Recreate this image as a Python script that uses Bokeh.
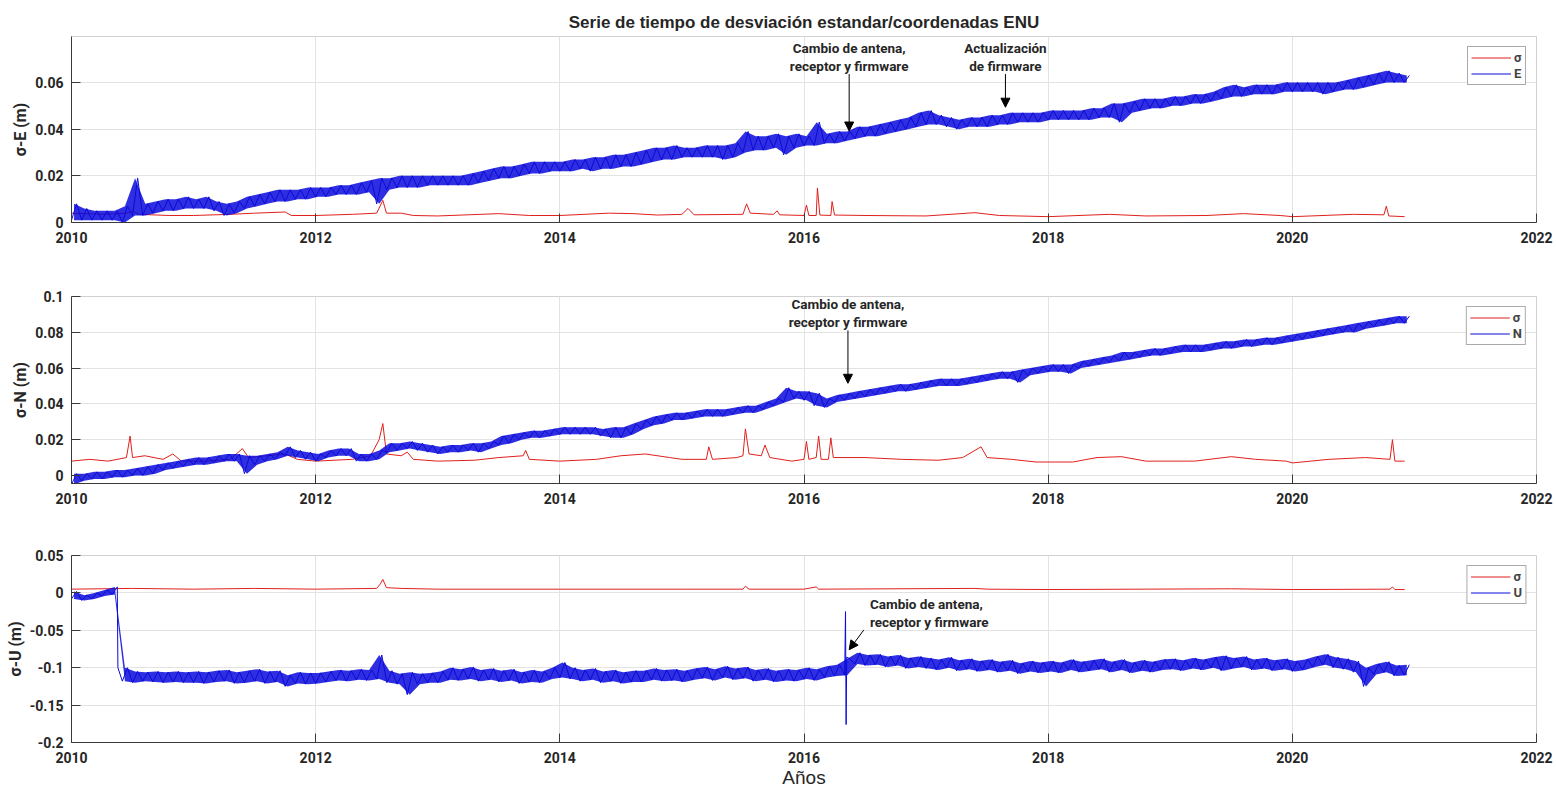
import numpy as np
from bokeh.plotting import figure
from bokeh.layouts import column
from bokeh.models import (Range1d, FixedTicker, NumeralTickFormatter, Label,
                          Arrow, NormalHead, Legend, LegendItem, Title)
from bokeh.embed import file_html
from bokeh.resources import INLINE

# ---------------- data ----------------
# Monthly low / high envelope of each daily series, in millimetres,
# one row per year, months Jan..Dec, 2010..2020.
start_year = 2010.0

E_lo_mm = [
    1, 1, 1, 1, 1, 0, 3, 3, 4, 5, 5, 6,
    6, 6, 5, 3, 4, 6, 7, 8, 9, 9, 10, 10,
    11, 11, 12, 12, 12, 13, 8, 14, 15, 15, 15, 16,
    16, 16, 16, 16, 17, 18, 19, 19, 20, 21, 21, 22,
    22, 22, 23, 22, 23, 23, 24, 24, 25, 26, 27, 27,
    28, 28, 28, 28, 27, 28, 30, 31, 31, 32, 29, 32,
    33, 33, 34, 34, 35, 36, 37, 37, 38, 39, 40, 41,
    42, 42, 41, 40, 41, 41, 41, 42, 42, 43, 43, 43,
    44, 44, 44, 44, 44, 45, 45, 43, 47, 48, 49, 49,
    50, 50, 51, 51, 52, 53, 54, 54, 55, 55, 55, 56,
    56, 56, 56, 55, 56, 57, 57, 58, 59, 60, 60, 60,
]
E_hi_mm = [
    8, 6, 5, 5, 5, 7, 19, 8, 9, 10, 10, 11,
    10, 11, 9, 8, 9, 11, 12, 13, 14, 14, 14, 15,
    15, 15, 16, 16, 17, 18, 19, 19, 20, 20, 20, 20,
    20, 20, 20, 21, 22, 23, 24, 24, 25, 26, 26, 26,
    26, 27, 27, 28, 28, 29, 29, 30, 31, 32, 32, 33,
    32, 32, 33, 33, 33, 34, 39, 37, 37, 38, 37, 38,
    37, 43, 38, 39, 39, 41, 41, 42, 43, 44, 45, 47,
    48, 46, 45, 44, 45, 45, 46, 46, 47, 47, 47, 47,
    48, 48, 48, 48, 49, 49, 51, 51, 52, 53, 53, 53,
    54, 54, 55, 55, 56, 58, 59, 58, 59, 59, 59, 60,
    60, 60, 60, 60, 60, 61, 62, 63, 64, 65, 64, 63,
]

N_lo_mm = [
    -5, -3, -2, -2, -1, -1, 0, 0, 1, 3, 4, 5,
    6, 6, 7, 8, 8, 1, 6, 8, 9, 11, 10, 9,
    8, 10, 11, 11, 8, 8, 9, 13, 14, 15, 14, 13,
    12, 13, 13, 14, 13, 15, 17, 18, 20, 21, 21, 22,
    23, 23, 23, 23, 22, 21, 21, 23, 26, 28, 29, 31,
    31, 32, 33, 33, 33, 34, 35, 35, 37, 39, 41, 43,
    42, 39, 38, 41, 42, 43, 44, 45, 46, 47, 47, 48,
    49, 50, 50, 50, 51, 52, 53, 54, 54, 52, 56, 57,
    58, 58, 57, 60, 61, 62, 63, 64, 65, 66, 67, 67,
    68, 69, 69, 69, 70, 71, 71, 72, 72, 73, 73, 74,
    75, 76, 77, 78, 79, 80, 80, 82, 83, 84, 85, 85,
]
N_hi_mm = [
    1, 1, 2, 2, 3, 3, 4, 5, 6, 7, 8, 9,
    10, 10, 11, 12, 12, 11, 11, 12, 13, 16, 14, 13,
    12, 14, 15, 15, 12, 12, 14, 18, 18, 19, 18, 17,
    16, 17, 17, 18, 18, 19, 22, 23, 24, 25, 25, 26,
    27, 27, 27, 27, 26, 27, 27, 29, 31, 33, 34, 35,
    35, 36, 37, 37, 37, 38, 39, 39, 41, 43, 49, 47,
    47, 46, 43, 45, 46, 47, 48, 49, 50, 51, 51, 52,
    53, 54, 54, 54, 55, 56, 57, 58, 58, 59, 60, 61,
    62, 62, 62, 64, 65, 66, 67, 69, 69, 70, 71, 71,
    72, 73, 73, 73, 74, 75, 75, 76, 76, 77, 77, 78,
    79, 80, 81, 82, 83, 84, 85, 86, 87, 88, 89, 89,
]

U_lo_mm = [
    -8, -10, -8, -4, -2, -118, -120, -118, -119, -120, -119, -120,
    -120, -121, -119, -118, -121, -120, -118, -121, -119, -125, -121, -122,
    -121, -119, -117, -118, -116, -117, -115, -120, -122, -136, -122, -120,
    -120, -116, -117, -115, -118, -116, -119, -117, -121, -119, -120, -115,
    -113, -115, -118, -116, -120, -118, -121, -119, -119, -116, -118, -117,
    -119, -116, -114, -117, -113, -116, -114, -118, -116, -119, -117, -118,
    -115, -117, -113, -111, -110, -95, -97, -96, -99, -97, -101, -99,
    -101, -103, -100, -104, -102, -105, -103, -106, -104, -108, -105, -107,
    -105, -107, -103, -106, -104, -102, -106, -103, -107, -104, -106, -103,
    -102, -104, -101, -103, -100, -104, -101, -99, -103, -101, -104, -102,
    -105, -103, -99, -96, -100, -102, -106, -125, -109, -106, -111, -110,
]
U_hi_mm = [
    2, -3, 0, 4, 8, -100, -105, -106, -105, -106, -105, -106,
    -105, -106, -104, -103, -106, -104, -102, -105, -104, -110, -106, -107,
    -107, -105, -103, -104, -102, -103, -83, -104, -108, -106, -108, -107,
    -105, -100, -102, -99, -103, -101, -104, -102, -106, -103, -105, -100,
    -93, -100, -103, -101, -105, -103, -106, -104, -104, -101, -103, -102,
    -104, -101, -99, -102, -98, -101, -99, -103, -101, -104, -102, -103,
    -100, -102, -98, -96, -88, -80, -83, -82, -85, -83, -87, -85,
    -87, -89, -86, -90, -88, -91, -89, -92, -90, -94, -91, -93,
    -91, -93, -89, -92, -90, -88, -92, -89, -93, -90, -92, -89,
    -88, -90, -87, -89, -86, -84, -87, -85, -89, -87, -90, -88,
    -91, -89, -85, -82, -86, -88, -91, -100, -95, -92, -97, -96,
]
# isolated events (decimal year, mm): offset at 2010.38 and antenna-change spike
U_event_years = [2010.380, 2016.340, 2016.345, 2016.350]
U_event_mm = [-100, -25, -176, -86]

# standard deviation (sigma) series, metres
sigE_years = [2010.0, 2010.25, 2010.45, 2010.5, 2010.55, 2010.8, 2011.0, 2011.3, 2011.5, 2011.75,
              2011.8, 2012.0, 2012.3, 2012.5, 2012.55, 2012.58, 2012.7, 2012.8, 2013.0, 2013.5,
              2013.75, 2014.0, 2014.4, 2014.6, 2014.8, 2015.0, 2015.05, 2015.1, 2015.5, 2015.53,
              2015.56, 2015.75, 2015.78, 2015.8, 2016.0, 2016.02, 2016.04, 2016.1, 2016.11, 2016.13,
              2016.22, 2016.23, 2016.25, 2016.5, 2017.0, 2017.4, 2017.6, 2018.0, 2018.5, 2018.8,
              2019.3, 2019.6, 2019.9, 2020.0, 2020.5, 2020.75, 2020.77, 2020.79, 2020.92]
sigE_vals = [0.004, 0.0035, 0.004, 0.005, 0.0035, 0.003, 0.003, 0.0035, 0.004, 0.0045,
             0.003, 0.003, 0.0035, 0.004, 0.0095, 0.004, 0.004, 0.003, 0.0028, 0.0038,
             0.003, 0.003, 0.004, 0.0038, 0.0032, 0.0035, 0.006, 0.0033, 0.0035, 0.008,
             0.004, 0.0035, 0.005, 0.0033, 0.003, 0.0075, 0.003, 0.003, 0.0148, 0.0032,
             0.003, 0.009, 0.0032, 0.003, 0.0028, 0.0042, 0.003, 0.0025, 0.0035, 0.0028,
             0.003, 0.0038, 0.003, 0.0025, 0.0035, 0.0033, 0.007, 0.0028, 0.0025]

sigN_years = [2010.0, 2010.15, 2010.3, 2010.45, 2010.48, 2010.5, 2010.6, 2010.75, 2010.83, 2010.9,
              2011.1, 2011.3, 2011.4, 2011.45, 2011.6, 2011.75, 2011.85, 2012.0, 2012.3, 2012.45,
              2012.52, 2012.55, 2012.58, 2012.7, 2012.75, 2012.8, 2013.0, 2013.3, 2013.5, 2013.7,
              2013.72, 2013.75, 2014.0, 2014.3, 2014.5, 2014.7, 2014.9, 2015.0, 2015.2, 2015.22,
              2015.25, 2015.45, 2015.5, 2015.52, 2015.55, 2015.65, 2015.68, 2015.72, 2015.9, 2016.0,
              2016.02, 2016.04, 2016.1, 2016.12, 2016.14, 2016.2, 2016.22, 2016.24, 2016.5, 2016.8,
              2017.1, 2017.3, 2017.45, 2017.5, 2017.7, 2017.9, 2018.2, 2018.4, 2018.6, 2018.8,
              2019.2, 2019.5, 2019.7, 2019.95, 2020.0, 2020.3, 2020.6, 2020.8, 2020.82, 2020.84,
              2020.92]
sigN_vals = [0.008, 0.009, 0.008, 0.010, 0.022, 0.010, 0.011, 0.009, 0.012, 0.008,
             0.008, 0.009, 0.015, 0.010, 0.011, 0.012, 0.009, 0.008, 0.009, 0.011,
             0.020, 0.029, 0.012, 0.011, 0.013, 0.009, 0.008, 0.0085, 0.010, 0.011,
             0.014, 0.009, 0.008, 0.009, 0.011, 0.012, 0.010, 0.009, 0.009, 0.016,
             0.009, 0.010, 0.011, 0.026, 0.012, 0.011, 0.017, 0.010, 0.008, 0.009,
             0.019, 0.009, 0.010, 0.022, 0.009, 0.009, 0.021, 0.010, 0.010, 0.009,
             0.0085, 0.010, 0.016, 0.010, 0.009, 0.0075, 0.0075, 0.010, 0.0105, 0.008,
             0.008, 0.0105, 0.009, 0.008, 0.007, 0.009, 0.010, 0.009, 0.020, 0.008,
             0.008]

sigU_years = [2010.0, 2010.5, 2011.0, 2011.5, 2012.0, 2012.5, 2012.53, 2012.55, 2012.58, 2012.7,
              2013.0, 2014.0, 2015.0, 2015.5, 2015.52, 2015.55, 2016.0, 2016.1, 2016.12, 2017.4,
              2017.5, 2018.0, 2019.5, 2020.0, 2020.8, 2020.82, 2020.84, 2020.92]
sigU_vals = [0.005, 0.006, 0.005, 0.006, 0.005, 0.006, 0.012, 0.018, 0.007, 0.006,
             0.005, 0.005, 0.005, 0.005, 0.009, 0.005, 0.005, 0.008, 0.005, 0.006,
             0.005, 0.0045, 0.0055, 0.0045, 0.005, 0.008, 0.0045, 0.0045]

x_ticks = [2010, 2012, 2014, 2016, 2018, 2020, 2022]
E_ticks = [0, 0.02, 0.04, 0.06]
N_ticks = [0, 0.02, 0.04, 0.06, 0.08, 0.1]
U_ticks = [-0.2, -0.15, -0.1, -0.05, 0, 0.05]

title_text = "Serie de tiempo de desviación estandar/coordenadas ENU"
note_change = "Cambio de antena,\nreceptor y firmware"
note_update = "Actualización\nde firmware"

# ---------------- helpers ----------------
FONT = "Roboto"
RED = "#e0201c"
BLUE = "#0a0adc"


def month_times(n):
    return start_year + np.arange(n) / 12.0


def envelope_line(lo_mm, hi_mm, ev_years=(), ev_mm=()):
    """Line that runs through each month's low then high value (min/max decimation)."""
    n = len(lo_mm)
    t_lo = month_times(n)
    t_hi = t_lo + 1.0 / 24.0
    t = np.empty(2 * n)
    v = np.empty(2 * n)
    t[0::2], t[1::2] = t_lo, t_hi
    v[0::2], v[1::2] = lo_mm, hi_mm
    t = np.concatenate([t, np.array(ev_years, dtype=float)])
    v = np.concatenate([v, np.array(ev_mm, dtype=float)])
    order = np.argsort(t, kind="stable")
    return t[order], v[order] / 1000.0


def panel(ylabel, yr, yticks, sig_t, sig_v, lo_mm, hi_mm, t, v, name, top, bottom, fh):
    p = figure(frame_width=1465, frame_height=fh,
               x_range=Range1d(2010, 2022), y_range=Range1d(*yr),
               output_backend="svg", toolbar_location=None,
               min_border_left=71, min_border_right=20,
               min_border_top=top, min_border_bottom=bottom,
               background_fill_color="white", border_fill_color="white")
    p.outline_line_color = "#d0d0d0"
    r1 = p.line(sig_t, sig_v, line_color=RED, line_width=1.0)
    tm = month_times(len(lo_mm)) + 1.0 / 48.0
    p.varea(x=tm, y1=np.array(lo_mm) / 1000.0, y2=np.array(hi_mm) / 1000.0,
            fill_color=BLUE, fill_alpha=0.85)
    r2 = p.line(t, v, line_color=BLUE, line_width=1.0)

    for ax in (p.xaxis[0], p.yaxis[0]):
        ax.major_tick_in = 9
        ax.major_tick_out = 0
        ax.minor_tick_in = 0
        ax.minor_tick_out = 0
        ax.axis_line_color = "#3a3a3a"
        ax.major_tick_line_color = "#3a3a3a"
        ax.major_label_text_font = FONT
        ax.major_label_text_font_style = "bold"
        ax.major_label_text_font_size = "14px"
        ax.major_label_text_color = "#262626"
    p.xaxis.ticker = FixedTicker(ticks=x_ticks)
    p.xaxis.formatter = NumeralTickFormatter(format="0")
    p.xaxis.major_label_standoff = 9
    p.yaxis.ticker = FixedTicker(ticks=yticks)
    p.yaxis.formatter = NumeralTickFormatter(format="0.[00]")
    p.yaxis.major_label_standoff = 8
    p.yaxis.axis_label = ylabel
    p.yaxis.axis_label_text_font = FONT
    p.yaxis.axis_label_text_font_style = "bold"
    p.yaxis.axis_label_text_font_size = "16px"
    p.yaxis.axis_label_text_color = "#262626"
    p.yaxis.axis_label_standoff = 2

    p.xgrid.ticker = FixedTicker(ticks=x_ticks)
    p.ygrid.ticker = FixedTicker(ticks=yticks)
    for g in (p.xgrid[0], p.ygrid[0]):
        g.grid_line_color = "#e3e3e3"
        g.grid_line_width = 1

    leg = Legend(items=[LegendItem(label="σ", renderers=[r1]),
                        LegendItem(label=name, renderers=[r2])],
                 location="top_right")
    leg.margin = 10
    leg.padding = 3
    leg.spacing = 1
    leg.glyph_width = 40
    leg.glyph_height = 15
    leg.label_height = 15
    leg.label_width = 8
    leg.label_standoff = 3
    leg.label_text_font = FONT
    leg.label_text_font_style = "bold"
    leg.label_text_font_size = "13px"
    leg.border_line_color = "#555555"
    leg.border_line_width = 1
    p.add_layout(leg)
    return p


def note(p, x, y, text, align="center"):
    p.add_layout(Label(x=x, y=y, text=text, text_align=align, text_baseline="bottom",
                       text_font=FONT, text_font_style="bold", text_font_size="13.5px",
                       text_color="#262626", text_line_height=1.1))


def arrow(p, x0, y0, x1, y1):
    p.add_layout(Arrow(x_start=x0, y_start=y0, x_end=x1, y_end=y1,
                       line_color="black", line_width=1,
                       end=NormalHead(size=9, fill_color="black", line_color="black")))


tE, vE = envelope_line(E_lo_mm, E_hi_mm)
tN, vN = envelope_line(N_lo_mm, N_hi_mm)
tU, vU = envelope_line(U_lo_mm, U_hi_mm, U_event_years, U_event_mm)

p1 = panel("σ-E (m)", (0, 0.0797), E_ticks, sigE_years, sigE_vals, E_lo_mm, E_hi_mm,
           tE, vE, "E", 36, 44, 186)
p2 = panel("σ-N (m)", (-0.0045, 0.1), N_ticks, sigN_years, sigN_vals, N_lo_mm, N_hi_mm,
           tN, vN, "N", 30, 44, 187)
p3 = panel("σ-U (m)", (-0.2, 0.05), U_ticks, sigU_years, sigU_vals, U_lo_mm, U_hi_mm,
           tU, vU, "U", 28, 42, 187)

p1.title = Title(text=title_text, align="center", text_font="Liberation Sans",
                 text_font_style="bold", text_font_size="17px", text_color="#262626",
                 standoff=10)

p3.xaxis.axis_label = "Años"
p3.xaxis.axis_label_text_font = "Liberation Sans"
p3.xaxis.axis_label_text_font_style = "normal"
p3.xaxis.axis_label_text_font_size = "19px"
p3.xaxis.axis_label_text_color = "#262626"
p3.xaxis.axis_label_standoff = 1

# annotations
note(p1, 2016.37, 0.0638, note_change)
arrow(p1, 2016.37, 0.0636, 2016.37, 0.0392)
note(p1, 2017.65, 0.0638, note_update)
arrow(p1, 2017.65, 0.0636, 2017.65, 0.0494)

note(p2, 2016.36, 0.0815, note_change)
arrow(p2, 2016.36, 0.081, 2016.36, 0.0515)

note(p3, 2016.54, -0.0495, note_change, align="left")
arrow(p3, 2016.49, -0.0495, 2016.37, -0.0760)

layout = column(p1, p2, p3, spacing=0)
open("out.html", "w").write(file_html(layout, INLINE))
